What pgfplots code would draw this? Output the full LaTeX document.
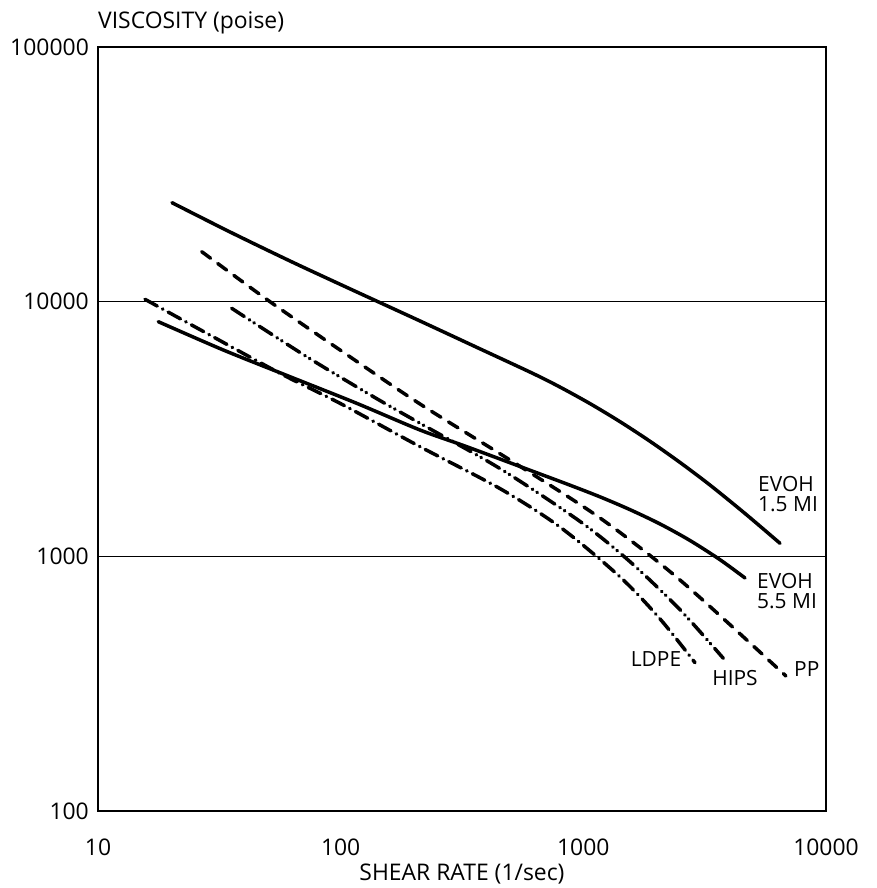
\documentclass[border=0pt]{standalone}
\usepackage{fontspec}
\setmainfont{Open Sans}
\usepackage{pgfplots}
\pgfplotsset{compat=1.18}
\begin{document}
\fontsize{21}{20}\selectfont
\begin{tikzpicture}
\begin{axis}[
  xmode=log, ymode=log,
  scale only axis, width=728bp, height=764bp,
  xmin=10, xmax=10000, ymin=100, ymax=100000,
  xtick={10,100,1000,10000}, xticklabels={10,100,1000,10000},
  ytick={100,1000,10000,100000}, yticklabels={100,1000,10000,100000},
  xminorticks=false, yminorticks=false,
  major tick length=0pt,
  ymajorgrids, major grid style={line width=1.6bp, black},
  axis line style={line width=1.8bp},
  tick label style={font=\fontsize{23}{24}\selectfont},
  xticklabel style={yshift=-21bp},
  yticklabel style={xshift=-2bp},
  /pgf/number format/assume math mode=true,
  clip=false,
]
% EVOH 1.5 MI
\addplot[black, line width=3.5bp, line cap=round, smooth] coordinates {
 (20.18,24470) (34.99,18780) (61.83,14445) (106.2,11368) (212.3,8398)
 (364.6,6610) (620.3,5223) (801.5,4619) (1065,3979) (1416,3379)
 (1883,2829) (2502,2337) (3326,1905) (4637,1473) (6464,1125)
};
% EVOH 5.5 MI
\addplot[black, line width=3.5bp, line cap=round, smooth] coordinates {
 (17.72,8345) (32.83,6461) (61.83,5074) (116.4,3990) (212.3,3134)
 (330.7,2695) (662.9,2106) (881.2,1903) (1172,1712) (1557,1525)
 (2070,1340) (2751,1154) (3657,970.1) (4637,822)
};
% PP
\addplot[black, line width=3.5bp, line cap=round, smooth, dash pattern=on 11bp off 9bp] coordinates {
 (26.75,15715) (51.14,9997) (99.37,6461) (212.3,3965) (498.6,2389)
 (1172,1414) (2502,807.4) (6840,338.9)
};
% HIPS
\addplot[black, line width=3.5bp, line cap=round, smooth, dash pattern=on 15bp off 6bp on 0.5bp off 5bp on 0.5bp off 6bp] coordinates {
 (35.56,9418) (72.45,6080) (136.3,4236) (212.3,3330) (453.5,2211)
 (968.9,1371) (1557,952.6) (2502,617.3) (3774,397.8)
};
% LDPE
\addplot[black, line width=3.5bp, line cap=round, smooth, dash pattern=on 14bp off 6bp on 0.5bp off 6bp] coordinates {
 (15.62,10216) (28.05,7514) (56.23,5233) (99.37,3990) (212.3,2695)
 (453.5,1845) (801.5,1303) (1416,830.4) (2070,568.0) (2885,382.2)
};
\node[anchor=west, align=left, inner sep=0pt] at (axis cs:5245,1749) {EVOH\\1.5 MI};
\node[anchor=west, align=left, inner sep=0pt] at (axis cs:5195,728) {EVOH\\5.5 MI};
\node[inner sep=0pt] at (axis cs:1993,395) {LDPE};
\node[inner sep=0pt] at (axis cs:4218,334) {HIPS};
\node[inner sep=0pt] at (axis cs:8330,361) {PP};
\node[anchor=base west, yshift=18bp, inner sep=0pt, font=\fontsize{23}{24}\selectfont] at (rel axis cs:0,1) {VISCOSITY (poise)};
\node[anchor=base, yshift=-70bp, inner sep=0pt, font=\fontsize{23}{24}\selectfont] at (rel axis cs:0.5,0) {SHEAR RATE (1/sec)};
\path (rel axis cs:0,0) ++(-98bp,-77bp) coordinate (bbsw);
\path (rel axis cs:1,1) ++(50bp,47bp) coordinate (bbne);
\end{axis}
\pgfresetboundingbox
\path (bbsw) rectangle (bbne);
\end{tikzpicture}
\end{document}
